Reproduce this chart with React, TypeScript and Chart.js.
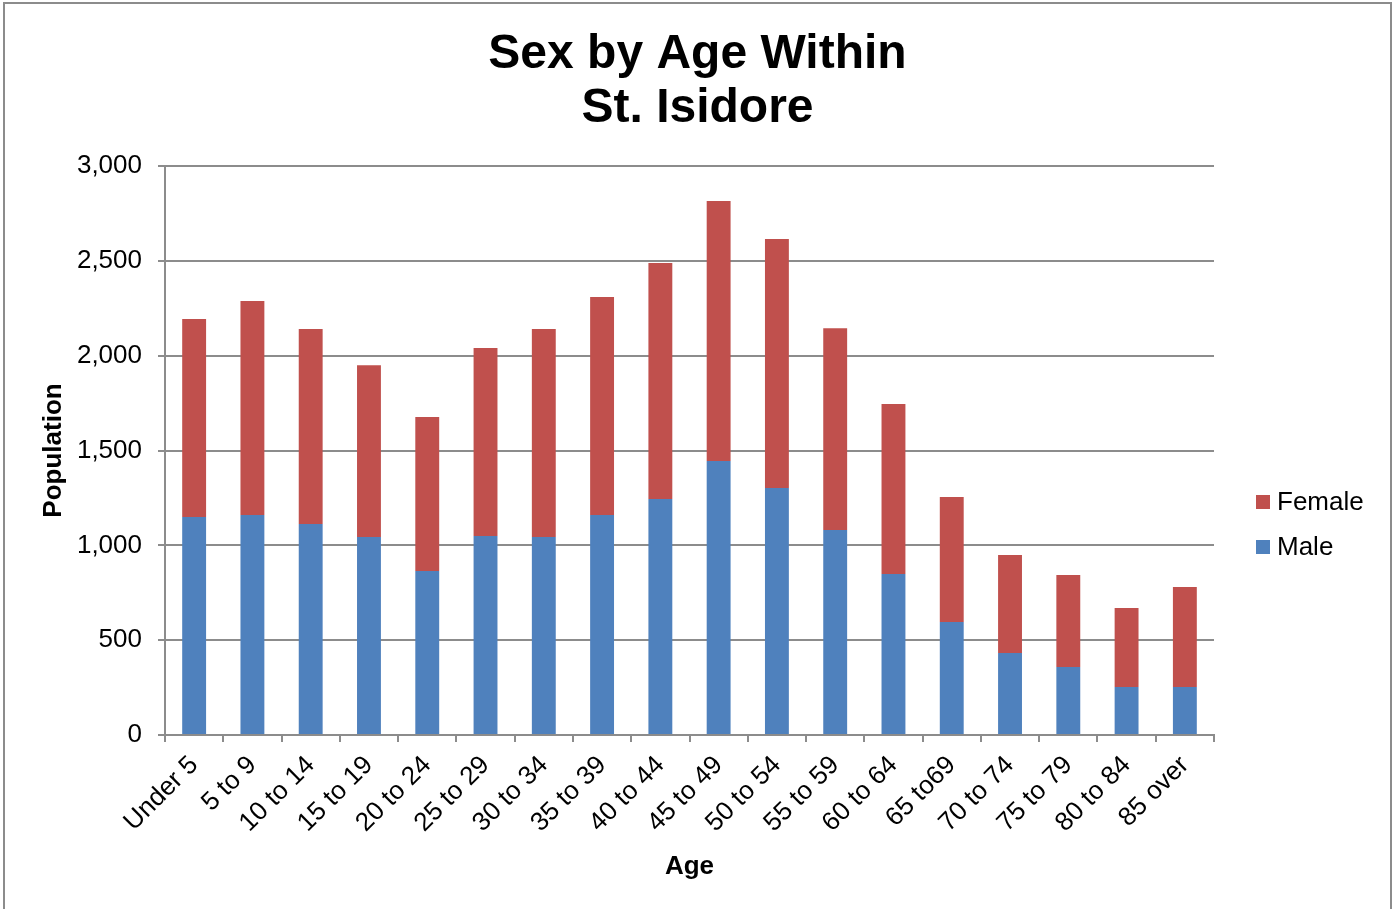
import React, { useEffect, useRef } from "react";
import { Chart, registerables } from "chart.js";

Chart.register(...registerables);

const categories = [
  "Under 5", "5 to 9", "10 to 14", "15 to 19", "20 to 24", "25 to 29",
  "30 to 34", "35 to 39", "40 to 44", "45 to 49", "50 to 54", "55 to 59",
  "60 to 64", "65 to69", "70 to 74", "75 to 79", "80 to 84", "85 over",
];

const maleValues = [
  1149, 1160, 1112, 1044, 865, 1049, 1044, 1160, 1244, 1444, 1302, 1081,
  849, 596, 432, 358, 253, 253,
];

const femaleValues = [
  1044, 1128, 1028, 906, 811, 991, 1096, 1149, 1244, 1371, 1313, 1064,
  896, 659, 517, 485, 416, 527,
];

const yTicks = { min: 0, max: 3000, step: 500 };

const FONT = '"Liberation Sans", Arial, Helvetica, sans-serif';
const GRID = "#8c8c8c";

const sideLegend = {
  id: "sideLegend",
  afterDraw(chart: any) {
    const { ctx, chartArea } = chart;
    const ds = chart.data.datasets;
    ctx.save();
    ctx.font = `26px ${FONT}`;
    ctx.textBaseline = "middle";
    ctx.textAlign = "left";
    const x = chartArea.right + 42;
    let y = 502;
    for (let i = ds.length - 1; i >= 0; i--) {
      ctx.fillStyle = ds[i].backgroundColor;
      ctx.fillRect(x, y - 7, 14, 14);
      ctx.fillStyle = "#000";
      ctx.fillText(ds[i].label, x + 21, y + 1);
      y += 45;
    }
    ctx.restore();
  },
};

export default function App() {
  const ref = useRef<HTMLCanvasElement | null>(null);

  useEffect(() => {
    if (!ref.current) return;
    Chart.defaults.font.family = FONT;
    Chart.defaults.color = "#000";
    const chart = new Chart(ref.current, {
      type: "bar",
      data: {
        labels: categories,
        datasets: [
          {
            label: "Male",
            data: maleValues,
            backgroundColor: "#4F81BD",
            barPercentage: 0.41,
            categoryPercentage: 1,
          },
          {
            label: "Female",
            data: femaleValues,
            backgroundColor: "#C0504D",
            barPercentage: 0.41,
            categoryPercentage: 1,
          },
        ],
      },
      options: {
        responsive: false,
        animation: false,
        devicePixelRatio: 1,
        layout: { padding: { left: 0, right: 0, top: 0, bottom: 0 } },
        plugins: {
          legend: { display: false },
          tooltip: { enabled: false },
          title: {
            display: true,
            text: ["Sex by Age Within", "St. Isidore"],
            color: "#000",
            font: { size: 48, weight: "bold", lineHeight: 54 / 48 },
            padding: { top: 27.5, bottom: 30.5 },
          },
        },
        scales: {
          x: {
            stacked: true,
            afterFit: (s: any) => {
              s.height = 174;
            },
            grid: {
              offset: true,
              drawOnChartArea: false,
              drawTicks: true,
              tickLength: 7,
              color: GRID,
              lineWidth: 2,
            },
            border: { color: GRID, width: 2 },
            ticks: {
              autoSkip: false,
              maxRotation: 45,
              minRotation: 45,
              padding: 8,
              color: "#000",
              font: { size: 26 },
            },
            title: {
              display: true,
              text: "Age",
              color: "#000",
              font: { size: 26, weight: "bold" },
              padding: { top: 0, bottom: 27 },
            },
          },
          y: {
            stacked: true,
            min: yTicks.min,
            max: yTicks.max,
            afterFit: (s: any) => {
              s.width = 165;
            },
            grid: {
              color: GRID,
              lineWidth: 2,
              drawTicks: true,
              tickLength: 7,
            },
            border: { color: GRID, width: 2 },
            ticks: {
              stepSize: yTicks.step,
              padding: 16,
              color: "#000",
              font: { size: 26 },
              callback: (v: any) => Number(v).toLocaleString("en-US"),
            },
            title: {
              display: true,
              text: "Population",
              color: "#000",
              font: { size: 26, weight: "bold" },
              padding: { top: 38, bottom: 0 },
            },
          },
          legendSpace: {
            type: "linear",
            position: "right",
            display: true,
            afterFit: (s: any) => {
              s.width = 181;
            },
            grid: { display: false, drawOnChartArea: false },
            border: { display: false },
            ticks: { display: false },
          },
        },
      },
      plugins: [sideLegend],
    } as any);
    return () => chart.destroy();
  }, []);

  return (
    <div
      style={{
        position: "absolute",
        left: 0,
        top: 0,
        width: 1395,
        height: 909,
        overflow: "hidden",
        background: "#fff",
      }}
    >
      <div
        style={{
          position: "absolute",
          left: 3,
          top: 2,
          width: 1389,
          height: 1000,
          border: "2px solid #8c8c8c",
          boxSizing: "border-box",
        }}
      />
      <canvas
        ref={ref}
        width={1395}
        height={909}
        style={{ position: "absolute", left: 0, top: 0, width: 1395, height: 909 }}
      />
    </div>
  );
}
